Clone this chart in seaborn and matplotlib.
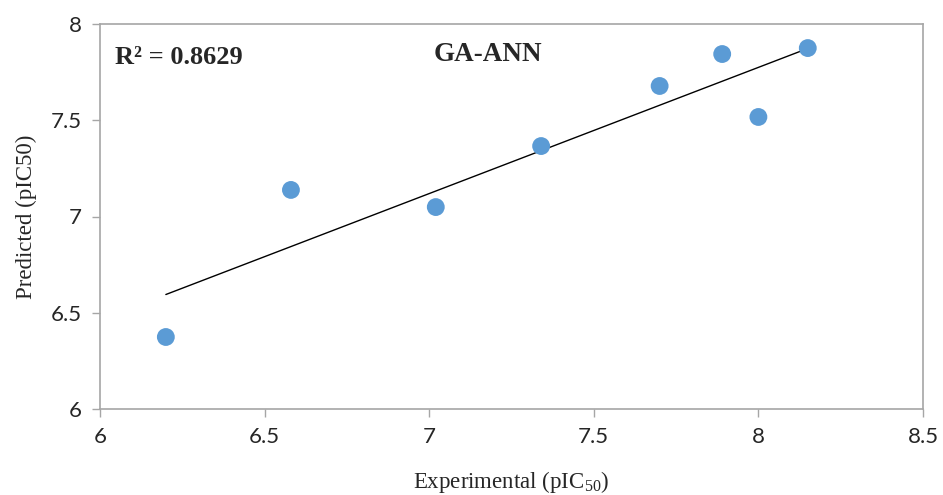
import numpy as np
import pandas as pd
import matplotlib
matplotlib.use("Agg")
import matplotlib.pyplot as plt
import seaborn as sns

# Experimental vs predicted activity (GA-ANN model)
experimental = [6.20, 6.58, 7.02, 7.34, 7.70, 7.89, 8.00, 8.15]
predicted = [6.374, 7.138, 7.049, 7.366, 7.678, 7.844, 7.517, 7.875]
x_ticks = [6, 6.5, 7, 7.5, 8, 8.5]
y_ticks = [6, 6.5, 7, 7.5, 8]
r2_label = "R² = 0.8629"
model_name = "GA-ANN"

df = pd.DataFrame({"Experimental": experimental, "Predicted": predicted})

sns.set_theme(style="white")
plt.rcParams["mathtext.fontset"] = "custom"
plt.rcParams["mathtext.rm"] = "Liberation Serif"
plt.rcParams["mathtext.it"] = "Liberation Serif"
plt.rcParams["mathtext.default"] = "rm"
serif = ["Liberation Serif", "DejaVu Serif"]
sans = ["Lato", "DejaVu Sans"]

fig = plt.figure(figsize=(9.43, 4.95), dpi=100)
ax = fig.add_axes([100 / 943, 1 - 409 / 495, 823 / 943, 385 / 495])

# Linear trend line over the data range
slope, intercept = np.polyfit(df["Experimental"], df["Predicted"], 1)
xs = np.array([min(experimental), max(experimental)])
ax.plot(xs, slope * xs + intercept, color="black", lw=1.0, zorder=2)

sns.scatterplot(data=df, x="Experimental", y="Predicted", ax=ax,
                color="#5B9BD5", s=165, edgecolor="none", zorder=3)

ax.set_xlim(6, 8.5)
ax.set_ylim(6, 8)
ax.set_xticks(x_ticks)
ax.set_yticks(y_ticks)
ax.set_xticklabels([f"{t:g}" for t in x_ticks], family=sans, fontsize=16)
ax.set_yticklabels([f"{t:g}" for t in y_ticks], family=sans, fontsize=16)
ax.tick_params(axis="both", direction="out", length=6, width=1,
               color="#A6A6A6", left=True, bottom=True, pad=7)

for sp in ax.spines.values():
    sp.set_color("#A6A6A6")
    sp.set_linewidth(1.2)

ax.set_xlabel("Experimental (pIC$_{50}$)", family=serif, fontsize=16.5, labelpad=16)
ax.set_ylabel("Predicted (pIC50)", family=serif, fontsize=16.5, labelpad=10)

ax.text(0.018, 0.912, r2_label, transform=ax.transAxes, family=serif,
        fontsize=19, fontweight="bold", va="center", ha="left")
ax.text(0.471, 0.922, model_name, transform=ax.transAxes, family=serif,
        fontsize=19.5, fontweight="bold", va="center", ha="center")

fig.savefig("out.png", dpi=100)
